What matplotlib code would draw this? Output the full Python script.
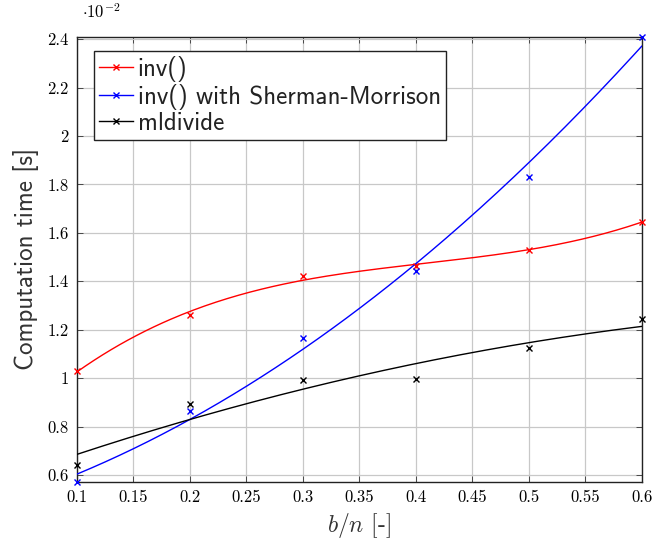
from matplotlib import pyplot as plt
from matplotlib.lines import Line2D
from matplotlib.ticker import FuncFormatter
import numpy as np

# b/n ratio and measured computation times (in units of 1e-2 s)
bn = [0.1, 0.2, 0.3, 0.4, 0.5, 0.6]
t_inv = [1.03, 1.26, 1.423, 1.463, 1.528, 1.646]
t_sm = [0.572, 0.864, 1.164, 1.443, 1.832, 2.41]
t_mldivide = [0.642, 0.893, 0.991, 0.996, 1.123, 1.243]

labels = ["inv()", "inv() with Sherman-Morrison", "mldivide"]
colors = ["#ff0000", "#0000ff", "#000000"]
fit_deg = [3, 2, 2]  # polynomial order of the trend lines

plt.rcParams['font.family'] = 'cmr10'
plt.rcParams['mathtext.fontset'] = 'cm'
plt.rcParams['axes.unicode_minus'] = False

fig = plt.figure(figsize=(6.54, 5.41), dpi=100)
ax = fig.add_axes([0.1177, 0.1096, 0.9812 - 0.1177, 0.932 - 0.1096])

xs = np.linspace(min(bn), max(bn), 200)
handles = []
for ys, c, d, lab in zip([t_inv, t_sm, t_mldivide], colors, fit_deg, labels):
    coef = np.polyfit(bn, ys, d)
    ax.plot(xs, np.polyval(coef, xs), color=c, lw=1.0, zorder=3)
    ax.plot(bn, ys, ls='none', marker='x', color=c, ms=4.5, mew=1.0,
            zorder=4, clip_on=False)
    handles.append(Line2D([], [], color=c, lw=1.0, marker='x', ms=4.5, mew=1.0))

ax.set_xlim(min(bn), max(bn))
all_t = t_inv + t_sm + t_mldivide
ax.set_ylim(min(all_t), max(all_t))

ax.set_xticks(np.arange(0.1, 0.6001, 0.05))
ax.set_yticks(np.arange(0.6, 2.4001, 0.2))
fmt = FuncFormatter(lambda v, p: "%g" % round(v, 3))
ax.xaxis.set_major_formatter(fmt)
ax.yaxis.set_major_formatter(fmt)
ax.tick_params(direction='in', top=True, right=True, length=4, width=0.6,
               labelsize=12, colors='#333333', labelcolor='black', pad=6)
ax.grid(True, color='#c8c8c8', lw=0.9)
ax.set_axisbelow(True)
for s in ax.spines.values():
    s.set_linewidth(1.0)
    s.set_color('#222222')

ax.set_xlabel(r"$b/n$ [-]", fontsize=17, labelpad=4, color='#333333')
ax.set_ylabel("Computation time [s]", fontsize=18, fontfamily='cmss10',
              color='#333333', labelpad=6)
fig.text(0.125, 0.962, r"$\cdot10^{-2}$", fontsize=12, ha='left', va='bottom')

leg = ax.legend(handles, labels, loc='upper left', bbox_to_anchor=(0.03, 0.968),
                prop={'family': 'cmss10', 'size': 18}, frameon=True,
                fancybox=False, edgecolor='#222222', framealpha=1,
                handlelength=1.35, handletextpad=0.2, borderpad=0.2,
                labelspacing=0.08, borderaxespad=0)
leg.get_frame().set_linewidth(1.0)
for t in leg.get_texts():
    t.set_color('#222222')

plt.savefig('out.png', dpi=100)
